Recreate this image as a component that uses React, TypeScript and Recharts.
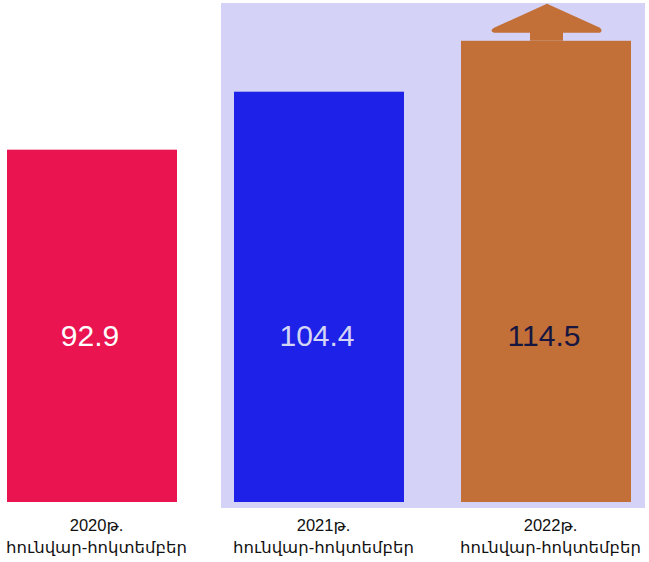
import React from "react";
import { BarChart, Bar, XAxis, YAxis, Cell, LabelList } from "recharts";

const periods = ["2020թ.", "2021թ.", "2022թ."];
const periodSub = ["հունվար-հոկտեմբեր", "հունվար-հոկտեմբեր", "հունվար-հոկտեմբեր"];
const values = [92.9, 104.4, 114.5];
const barColors = ["#e91450", "#1e22e8", "#c27038"];
const labelColors = ["#ffffff", "#d4d4f4", "#161640"];

const data = periods.map((p, i) => ({ name: p, sub: periodSub[i], value: values[i] }));

const FONT = "'Liberation Sans', Arial, 'DejaVu Sans', sans-serif";

const BarShape = (props: any) => {
  const { x, y, width, height, fill, index } = props;
  const cx = x + width / 2;
  return (
    <g>
      <rect x={x} y={y} width={width} height={height} fill={fill} />
      {index === 2 && (
        <path
          d={`M ${cx - 16} ${y} L ${cx - 16} ${y - 8} L ${cx - 52} ${y - 8} Q ${cx - 57} ${y - 10} ${cx - 52} ${y - 13} L ${cx + 1} ${y - 37} L ${cx + 54} ${y - 13} Q ${cx + 57} ${y - 10} ${cx + 54} ${y - 8} L ${cx + 17} ${y - 8} L ${cx + 17} ${y} Z`}
          fill={fill}
        />
      )}
    </g>
  );
};

const Tick = (props: any) => {
  const { x, y, payload, index } = props;
  return (
    <g fontFamily={FONT} fontSize={16.5} fill="#111">
      <text x={x + 5} y={y + 21} textAnchor="middle">{payload.value}</text>
      <text x={x + 5} y={y + 43} textAnchor="middle">{periodSub[index]}</text>
    </g>
  );
};

const ValueLabel = (props: any) => {
  const { x, y, width, height, value, index } = props;
  return (
    <text
      x={x + width / 2 - 2}
      y={y + height - 156}
      textAnchor="middle"
      fontFamily={FONT}
      fontSize={30}
      fill={labelColors[index]}
    >
      {value}
    </text>
  );
};

export default function App() {
  return (
    <div style={{ position: "absolute", left: 0, top: 0, width: 649, height: 562, overflow: "hidden", background: "#ffffff" }}>
      <div style={{ position: "absolute", left: 221, top: 3, width: 424, height: 505, background: "#d4d2f6" }} />
      <div style={{ position: "absolute", left: -22.5, top: 0 }}>
        <BarChart width={681} height={562} data={data} margin={{ top: 3, right: 0, bottom: 0, left: 0 }}>
          <XAxis dataKey="name" axisLine={false} tickLine={false} height={60} tick={<Tick />} interval={0} />
          <YAxis hide domain={[23, 122]} />
          <Bar dataKey="value" barSize={170} isAnimationActive={false} shape={<BarShape />}>
            {data.map((d, i) => (
              <Cell key={d.name} fill={barColors[i]} />
            ))}
            <LabelList dataKey="value" content={<ValueLabel />} />
          </Bar>
        </BarChart>
      </div>
    </div>
  );
}
